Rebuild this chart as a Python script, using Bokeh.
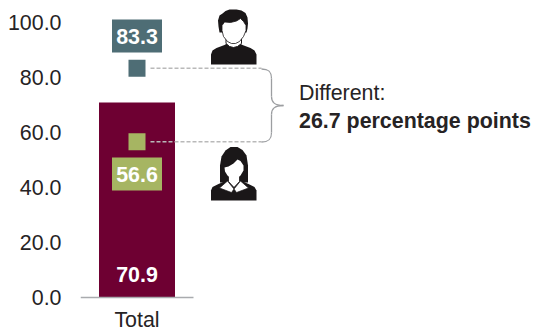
from bokeh.plotting import figure
from bokeh.models import Range1d, FixedTicker
from bokeh.core.properties import value
from bokeh.embed import file_html
from bokeh.resources import INLINE

# Chart data
categories = ["Total"]
total_values = [70.9]
men_values = [83.3]
women_values = [56.6]
y_ticks = [0, 20, 40, 60, 80, 100]
difference_label = "26.7 percentage points"
difference_title = "Different:"

FONT = "Liberation Sans"
TEXT_SIZE = "21.4px"
INK = "#262324"
BAR = "#6e0032"
TEAL = "#4e6d75"
GREEN = "#a6b562"
RULE = "#a9abae"
DASH = "#b9b9b9"

WIDTH, HEIGHT = 536, 332
LEFT, BASE_Y = 80, 296.5
PX_PER_VALUE = 2.745
PX_PER_CAT = 113.0


def dx(px):
    """Canvas pixel column to x-axis units."""
    return (px - LEFT) / PX_PER_CAT


def dy(py):
    """Canvas pixel row to y-axis units."""
    return (BASE_Y - py) / PX_PER_VALUE


p = figure(
    width=WIDTH, height=HEIGHT, output_backend="svg", toolbar_location=None,
    x_range=Range1d(0, (WIDTH - LEFT) / PX_PER_CAT),
    y_range=Range1d(dy(HEIGHT), dy(0)),
    min_border_left=LEFT, min_border_right=0, min_border_top=0, min_border_bottom=0,
)
p.outline_line_color = None
p.grid.visible = False

# Axes
yax = p.yaxis[0]
yax.ticker = FixedTicker(ticks=y_ticks)
yax.major_label_overrides = {t: f"{t:.1f}" for t in y_ticks}
yax.axis_line_color = None
yax.major_tick_line_color = None
yax.major_tick_out = 0
yax.minor_tick_line_color = None
yax.minor_tick_out = 0
yax.major_label_standoff = 19
yax.major_label_text_font = FONT
yax.major_label_text_font_size = TEXT_SIZE
yax.major_label_text_color = INK

# The category axis sits on the zero line, with its label in the space underneath
xax = p.xaxis[0]
xax.fixed_location = 0
xax.ticker = FixedTicker(ticks=[0.5])
xax.major_label_overrides = {0.5: categories[0]}
xax.bounds = (0, 1)
xax.axis_line_color = RULE
xax.axis_line_width = 1.5
xax.major_tick_line_color = None
xax.major_tick_out = 0
xax.minor_tick_line_color = None
xax.minor_tick_out = 0
xax.major_label_standoff = 11
xax.major_label_text_font = FONT
xax.major_label_text_font_size = TEXT_SIZE
xax.major_label_text_color = INK

CENTER = 0.5

# Column
p.vbar(x=[CENTER], top=total_values, bottom=0, width=76 / PX_PER_CAT, fill_color=BAR, line_color=None)
p.text(x=[CENTER], y=[dy(274)], text=[f"{total_values[0]:.1f}"], text_color="white",
       text_font=value(FONT), text_font_style="bold", text_font_size=TEXT_SIZE,
       text_align="center", text_baseline="middle")

# Leader lines from the two markers into the brace
for v in (men_values[0], women_values[0]):
    p.line([dx(150), dx(261)], [v, v], line_color=DASH, line_width=1.5, line_dash="4 2")

# Markers and their value tags
for v, colour, tag_py in ((men_values[0], TEAL, 35.5), (women_values[0], GREEN, 173.5)):
    p.rect(x=[CENTER], y=[v], width=17, height=17, width_units="screen", height_units="screen",
           fill_color=colour, line_color=None)
    p.rect(x=[CENTER], y=[dy(tag_py)], width=50, height=33, width_units="screen", height_units="screen",
           fill_color=colour, line_color=None)
    p.text(x=[CENTER], y=[dy(tag_py)], text=[f"{v:.1f}"], text_color="white",
           text_font=value(FONT), text_font_style="bold", text_font_size=TEXT_SIZE,
           text_align="center", text_baseline="middle")

# Brace joining the two leader lines
BRACE = "#9c9ea1"
curves = [
    ((261, 68.5), (268, 68.5), (271, 71), (271, 78)),
    ((271, 96), (271, 102), (274, 105), (283, 105)),
    ((283, 105), (274, 105), (271, 108), (271, 114)),
    ((271, 132), (271, 139), (268, 141.5), (261, 141.5)),
]
for a, c0, c1, b in curves:
    p.bezier(x0=[dx(a[0])], y0=[dy(a[1])], x1=[dx(b[0])], y1=[dy(b[1])],
             cx0=[dx(c0[0])], cy0=[dy(c0[1])], cx1=[dx(c1[0])], cy1=[dy(c1[1])],
             line_color=BRACE, line_width=1.3)
p.line([dx(271), dx(271)], [dy(78), dy(96)], line_color=BRACE, line_width=1.3)
p.line([dx(271), dx(271)], [dy(114), dy(132)], line_color=BRACE, line_width=1.3)

# Difference callout
p.text(x=[dx(298.5)], y=[dy(92)], text=[difference_title], text_color=INK,
       text_font=value(FONT), text_font_size=TEXT_SIZE, text_align="left", text_baseline="middle")
p.text(x=[dx(298.5)], y=[dy(120)], text=[difference_label], text_color=INK,
       text_font=value(FONT), text_font_style="bold", text_font_size=TEXT_SIZE,
       text_align="left", text_baseline="middle")


def shape(points, colour, line=None, lw=1.0):
    xs = [dx(a) for a, _ in points]
    ys = [dy(b) for _, b in points]
    p.patch(xs, ys, fill_color=colour, line_color=line, line_width=lw)


ICON = "#1a1718"

# Man pictogram
shape([(210.5, 64), (210.5, 54), (212, 50), (216, 47.5), (224, 44.5), (228, 42), (238, 42), (242, 44.5),
       (250, 47.5), (254, 50), (256, 54), (256, 64)], ICON)
shape([(225.5, 38), (225.5, 43), (229, 46), (233, 47), (237, 46), (241, 43), (241, 38)], "white", ICON, 1.0)
shape([(219, 32), (218, 26), (217.5, 20), (219, 15), (222, 13), (225, 10.5), (229, 9), (236, 9), (241, 10),
       (245, 12.5), (247, 17), (247.5, 23), (247, 28), (246, 32), (221, 32)], ICON)
shape([(221.5, 25), (224, 21.5), (230, 22), (236, 20.5), (240, 18), (243, 21), (245.5, 25), (245.5, 30),
       (243, 36), (239, 41), (235, 43), (231, 43), (227, 41), (223, 36), (221.5, 30)], "white", ICON, 0.8)

# Woman pictogram
shape([(219.5, 182), (219.5, 165), (221, 156), (225, 150), (230, 146.5), (237, 146.5), (242, 149.5),
       (246, 155), (247.5, 165), (247.5, 182)], ICON)
shape([(210.5, 200), (210.5, 190), (212, 186.5), (218, 183.5), (226, 180), (240, 180), (248, 183.5),
       (254, 186.5), (256, 190), (256, 200)], ICON)
shape([(228, 174), (228, 181), (233.5, 187), (239, 181), (239, 174)], "white", ICON, 0.8)
shape([(224, 167), (228, 166), (233, 163), (237, 159), (240, 160.5), (243, 165), (243, 170), (240, 175),
       (236, 178.5), (231, 178.5), (227, 175), (224.5, 171)], "white")
shape([(227, 180.5), (233.5, 188.5), (231, 192), (219, 187.5)], "white", ICON, 0.7)
shape([(240, 180.5), (233.5, 188.5), (236, 192), (248, 187.5)], "white", ICON, 0.7)

open("out.html", "w").write(file_html(p, INLINE))
